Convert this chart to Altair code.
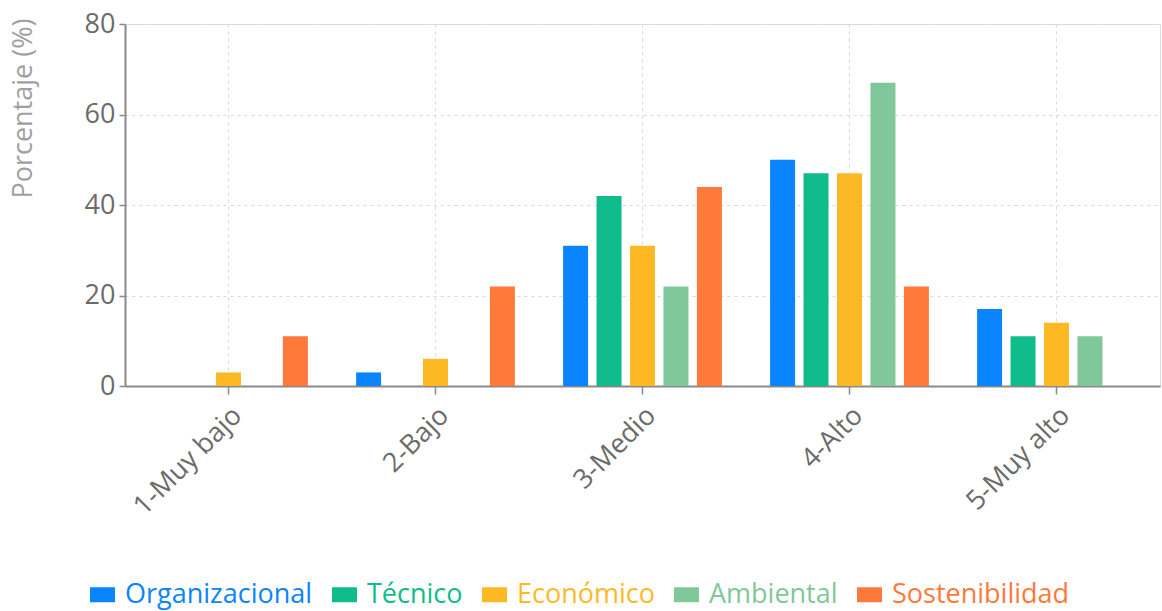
import altair as alt
import pandas as pd

categories = ["1-Muy bajo", "2-Bajo", "3-Medio", "4-Alto", "5-Muy alto"]
series = ["Organizacional", "Técnico", "Económico", "Ambiental", "Sostenibilidad"]
organizacional = [0, 3, 31, 50, 17]
tecnico = [0, 0, 42, 47, 11]
economico = [3, 6, 31, 47, 14]
ambiental = [0, 0, 22, 67, 11]
sostenibilidad = [11, 22, 44, 22, 0]
colors = ["#0A84FF", "#10BC8C", "#FDB924", "#80C79A", "#FF7A3A"]

values = [organizacional, tecnico, economico, ambiental, sostenibilidad]
rows = []
for s, vals in zip(series, values):
    for c, v in zip(categories, vals):
        rows.append({"Nivel": c, "Dimensión": s, "Porcentaje": v})
df = pd.DataFrame(rows)

FONT = "Open Sans"
FS = 27

color_scale = alt.Scale(domain=series, range=colors)

bars = alt.Chart(df).mark_bar(size=25, xOffset=-3).encode(
    x=alt.X("Nivel:N", sort=categories,
            scale=alt.Scale(paddingInner=0.2, paddingOuter=0.1),
            axis=alt.Axis(title=None, labelAngle=-45, labelFontSize=FS, labelColor="#6b6b6b",
                          labelFont=FONT, domainColor="#8a8a8a", domainWidth=2,
                          tickColor="#8a8a8a", tickSize=8, tickWidth=1.5, labelPadding=8,
                          grid=True, gridDash=[3, 4], gridColor="#d8d8d8", bandPosition=0.5)),
    xOffset=alt.XOffset("Dimensión:N", sort=series,
                        scale=alt.Scale(paddingInner=0.25, paddingOuter=0.1)),
    y=alt.Y("Porcentaje:Q", scale=alt.Scale(domain=[0, 80]),
            axis=alt.Axis(title="Porcentaje (%)", values=[0, 20, 40, 60, 80],
                          titleFontSize=FS, titleFontWeight="normal", titleColor="#a0a0a0",
                          titleFont=FONT, titleAngle=-90, titleAlign="right",
                          titleBaseline="middle", titleX=-102, titleY=-6,
                          labelFontSize=FS, labelColor="#6b6b6b", labelFont=FONT,
                          domainColor="#8a8a8a", domainWidth=2, tickColor="#8a8a8a",
                          tickSize=6, tickWidth=1.5, labelPadding=4,
                          grid=True, gridDash=[3, 4], gridColor="#d8d8d8")),
    color=alt.Color("Dimensión:N", sort=series, scale=color_scale,
                    legend=alt.Legend(title=None, orient="none", direction="horizontal",
                                      legendX=-36, legendY=557, columns=5,
                                      symbolType="M-1,-0.6H1V0.6H-1Z", symbolSize=625,
                                      symbolStrokeWidth=0, symbolOpacity=1,
                                      labelFontSize=FS, labelFont=FONT,
                                      labelOffset=9, columnPadding=18,
                                      labelLimit=400,
                                      labelColor=alt.ExprRef("scale('color', datum.value)"))),
)

chart = bars.properties(
    width=1035, height=362,
    autosize=alt.AutoSizeParams(type="none"),
    padding={"left": 125, "top": 24, "right": 2, "bottom": 225},
).configure_view(stroke=None).configure(background="white")

chart.save("out.html", embed_options={"renderer": "svg", "actions": False})
